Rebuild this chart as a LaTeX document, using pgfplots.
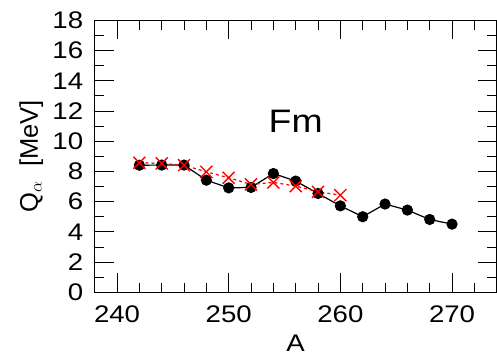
\documentclass[border=0pt]{standalone}
\usepackage{pgfplots}
\pgfplotsset{compat=1.18}
\usepackage{fontspec}
\setmainfont[FakeStretch=1.15]{Liberation Sans}
\newfontfamily\plainsans{Liberation Sans}
\begin{document}
\begin{tikzpicture}
\begin{axis}[
  at={(0,0)}, anchor=south west,
  scale only axis,
  width=402pt, height=272pt,
  xmin=238, xmax=274,
  ymin=0, ymax=18,
  xtick={240,250,260,270},
  minor xtick={242,244,246,248,252,254,256,258,262,264,266,268,272},
  ytick={0,2,4,6,8,10,12,14,16,18},
  minor ytick={1,3,5,7,9,11,13,15,17},
  tick align=inside,
  major tick length=19pt,
  minor tick length=9.5pt,
  axis line style={line width=1.2pt},
  every tick/.style={black, line width=0.9pt},
  /pgf/number format/assume math mode=true,
  tick label style={font=\fontsize{24}{28}\selectfont},
  yticklabel style={xshift=-8pt},
  xticklabel style={yshift=-10pt},
  xlabel={A},
  ylabel={Q$_\alpha$ \ [MeV]},
  xlabel style={font=\fontsize{24}{28}\selectfont, at={(axis description cs:0.5,-0.157)}, anchor=north, inner sep=0pt},
  ylabel style={font=\plainsans\fontsize{25.5}{30}\selectfont, at={(axis description cs:-0.158,0.5)}, anchor=center, inner sep=0pt},
  clip=false,
]
\addplot[black, line width=1.2pt, mark=*, mark size=5pt, mark options={solid}] coordinates {
(242,8.41) (244,8.42) (246,8.42) (248,7.42) (250,6.91) (252,6.94) (254,7.86) (256,7.36)
(258,6.54) (260,5.72) (262,5.00) (264,5.84) (266,5.44) (268,4.82) (270,4.51)
};
\addplot[red, line width=1.2pt, dash pattern=on 3pt off 3pt, mark=x, mark size=8.5pt, mark options={solid, line width=1.4pt}] coordinates {
(242,8.57) (244,8.53) (246,8.41) (248,7.97) (250,7.58) (252,7.14) (254,7.27) (256,7.03)
(258,6.65) (260,6.43)
};
\node[font=\fontsize{32.5}{38}\selectfont, anchor=center] at (axis cs:256.0,11.3) {Fm};
\end{axis}
\pgfresetboundingbox
\useasboundingbox (-94.7pt,-63.7pt) rectangle (402.3pt,292.3pt);
\end{tikzpicture}
\end{document}
